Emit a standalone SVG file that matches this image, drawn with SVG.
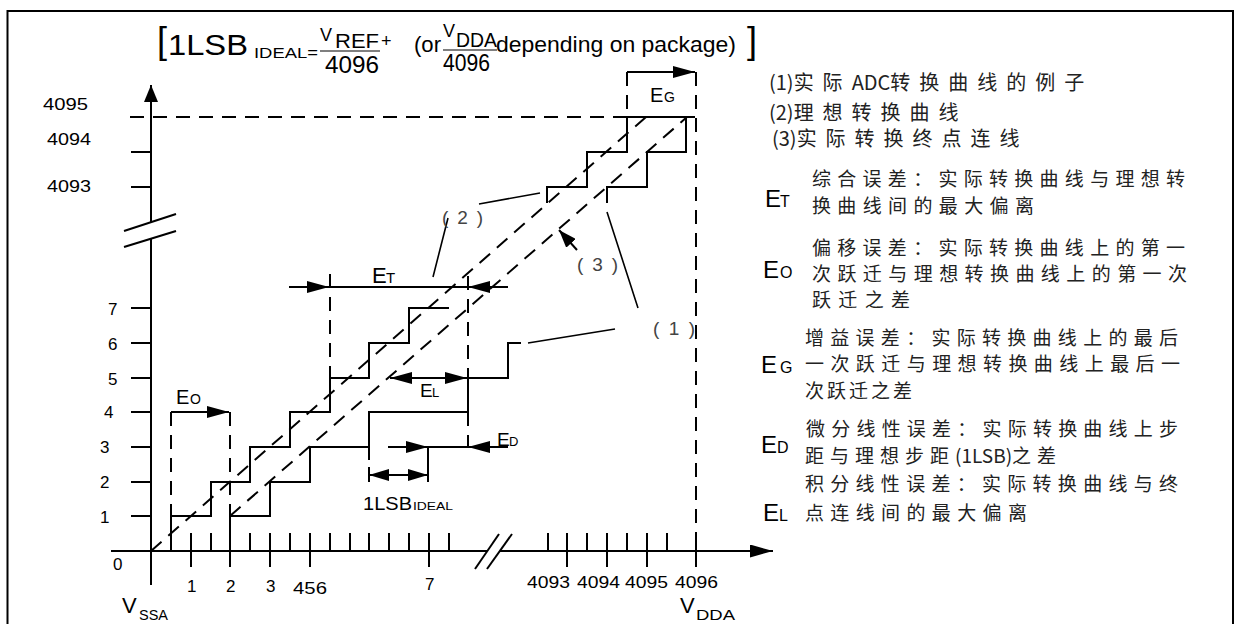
<svg xmlns="http://www.w3.org/2000/svg" width="1243" height="624" viewBox="0 0 1243 624">
<style>
.ln{stroke:#000;stroke-width:2;fill:none}
.dl{stroke:#000;stroke-width:2;fill:none;stroke-dasharray:14 9}
.th{stroke:#000;stroke-width:1.6;fill:none}
.t{font-family:"Liberation Sans",Arial,sans-serif;fill:#000}
.c{font-family:"Noto Sans CJK SC","Noto Sans",sans-serif;fill:#222;font-size:19px}
.k{letter-spacing:6px}
.k2{letter-spacing:9px}
.p{font-family:"Liberation Sans",Arial,sans-serif;fill:#444;font-size:19px}
</style>
<defs>
<marker id="ah" markerUnits="userSpaceOnUse" markerWidth="22" markerHeight="12" refX="22" refY="6" orient="auto-start-reverse"><path d="M0,0 L22,6 L0,12 z" fill="#000"/></marker>
<marker id="ahs" markerUnits="userSpaceOnUse" markerWidth="20" markerHeight="12" refX="20" refY="6" orient="auto-start-reverse"><path d="M0,0 L20,6 L0,12 z" fill="#000"/></marker>
<marker id="ax" markerUnits="userSpaceOnUse" markerWidth="23" markerHeight="13" refX="23" refY="6.5" orient="auto"><path d="M0,0 L23,6.5 L0,13 z" fill="#000"/></marker>
<marker id="ay" markerUnits="userSpaceOnUse" markerWidth="17" markerHeight="14" refX="17" refY="7" orient="auto"><path d="M0,0 L17,7 L0,14 z" fill="#000"/></marker>
<marker id="a3" markerUnits="userSpaceOnUse" markerWidth="18" markerHeight="13" refX="18" refY="6.5" orient="auto"><path d="M0,0 L18,6.5 L0,13 z" fill="#000"/></marker>
</defs>
<rect x="0" y="0" width="1243" height="624" fill="#fff"/>
<rect x="7.5" y="11" width="1225.5" height="640" fill="none" stroke="#000" stroke-width="2"/>

<g id="title" class="t">
<text x="157" y="53" font-size="36">[</text>
<text x="168" y="55" font-size="30" textLength="80" lengthAdjust="spacingAndGlyphs">1LSB</text>
<text x="254" y="58" font-size="15" textLength="64" lengthAdjust="spacingAndGlyphs">IDEAL=</text>
<text x="320" y="41" font-size="18">V</text>
<text x="335" y="48" font-size="20" textLength="44" lengthAdjust="spacingAndGlyphs">REF</text>
<text x="381" y="47" font-size="18">+</text>
<line x1="320" y1="51" x2="380" y2="51" stroke="#555" stroke-width="1.5"/>
<text x="325" y="73" font-size="24" textLength="54" lengthAdjust="spacingAndGlyphs">4096</text>
<text x="414" y="52" font-size="22" textLength="27" lengthAdjust="spacingAndGlyphs">(or</text>
<text x="443" y="37" font-size="18">V</text>
<text x="456" y="47" font-size="20" textLength="41" lengthAdjust="spacingAndGlyphs">DDA</text>
<line x1="443" y1="50" x2="497" y2="50" stroke="#555" stroke-width="1.5"/>
<text x="443" y="71" font-size="24" textLength="47" lengthAdjust="spacingAndGlyphs">4096</text>
<text x="496" y="52" font-size="22" textLength="240" lengthAdjust="spacingAndGlyphs">depending on package)</text>
<text x="747" y="53" font-size="36">]</text>
</g>

<g id="axes">
<line class="ln" x1="151" y1="585" x2="151" y2="239"/>
<line class="ln" x1="151" y1="222" x2="151" y2="85" marker-end="url(#ay)"/>
<line class="ln" x1="124" y1="231" x2="176" y2="214"/>
<line class="ln" x1="124" y1="247" x2="176" y2="231"/>
<line class="ln" x1="111" y1="551" x2="487" y2="551"/>
<line class="ln" x1="500" y1="551" x2="773" y2="551" marker-end="url(#ax)"/>
<line class="ln" x1="475" y1="569" x2="499" y2="534"/>
<line class="ln" x1="487" y1="569" x2="512" y2="534"/>
<path class="ln" d="M131,516H151M131,482H151M131,447H151M131,412H151M131,378H151M131,343H151M131,308H151M131,152H151M131,187H151"/>
<path class="ln" d="M171,533V551M191,533V567M211,533V551M230,533V567M250,533V551M270,533V567M290,533V551M310,533V567M330,533V551M350,533V551M369,533V551M389,533V551M409,533V551M429,533V567M449,533V551"/>
<path class="ln" d="M548,533V551M567,533V567M587,533V551M607,533V567M627,533V551M647,533V567M667,533V551M696,533V567"/>
</g>

<g id="axis-labels" class="t" font-size="17">
<text x="43" y="110" textLength="45" lengthAdjust="spacingAndGlyphs">4095</text>
<text x="47" y="145" textLength="44" lengthAdjust="spacingAndGlyphs">4094</text>
<text x="47" y="192" textLength="44" lengthAdjust="spacingAndGlyphs">4093</text>
<text x="108" y="315">7</text>
<text x="108" y="350">6</text>
<text x="108" y="385">5</text>
<text x="104" y="418">4</text>
<text x="100" y="453">3</text>
<text x="100" y="488">2</text>
<text x="100" y="523">1</text>
<text x="113" y="570">0</text>
<text x="187" y="592">1</text>
<text x="226" y="592">2</text>
<text x="266" y="592">3</text>
<text x="293" y="594" textLength="34" lengthAdjust="spacingAndGlyphs">456</text>
<text x="425" y="590">7</text>
<text x="527" y="588" textLength="43" lengthAdjust="spacingAndGlyphs">4093</text>
<text x="577" y="588" textLength="43" lengthAdjust="spacingAndGlyphs">4094</text>
<text x="625" y="588" textLength="43" lengthAdjust="spacingAndGlyphs">4095</text>
<text x="675" y="588" textLength="43" lengthAdjust="spacingAndGlyphs">4096</text>
<text x="122" y="613" font-size="22">V</text>
<text x="139" y="620" font-size="14" textLength="29" lengthAdjust="spacingAndGlyphs">SSA</text>
<text x="680" y="613" font-size="22">V</text>
<text x="696" y="620" font-size="14" textLength="39" lengthAdjust="spacingAndGlyphs">DDA</text>
</g>

<g id="curves">
<path class="ln" d="M171,551V516H211V482H250V447H290V412H330V378H369V343H409V308H449"/>
<path class="ln" d="M547,203V187H587V152H627V117H695"/>
<path class="ln" d="M230,551V516H270V482H310V447H369V412H468V378H508V343H521"/>
<path class="ln" d="M607,203V187H647V152H686V117"/>
<path class="dl" d="M151,551L646,117"/>
<path class="dl" d="M230,516L687,117"/>
<path class="dl" d="M130,117H627"/>
</g>

<g id="connectors">
<path class="dl" d="M171,412V516M230,412V516M330,274V378M468,276V378M468,412V447M627,72V117M696,72V533"/>
<line class="ln" x1="171" y1="412" x2="229" y2="412" marker-end="url(#ah)"/>
<line class="ln" x1="289" y1="287" x2="329" y2="287" marker-end="url(#ah)"/>
<line class="ln" x1="329" y1="287" x2="468" y2="287"/>
<line class="ln" x1="508" y1="287" x2="468" y2="287" marker-end="url(#ah)"/>
<line class="ln" x1="390" y1="378" x2="467" y2="378" marker-start="url(#ah)" marker-end="url(#ah)"/>
<line class="ln" x1="388" y1="447" x2="428" y2="447" marker-end="url(#ah)"/>
<line class="ln" x1="428" y1="447" x2="468" y2="447"/>
<line class="ln" x1="508" y1="447" x2="468" y2="447" marker-end="url(#ah)"/>
<path class="ln" d="M428,447V482M369,447V460M369,467V482"/>
<line class="ln" x1="369" y1="475" x2="428" y2="475" marker-start="url(#ahs)" marker-end="url(#ahs)"/>
<line class="ln" x1="627" y1="72" x2="695" y2="72" marker-end="url(#ah)"/>
<line class="ln" x1="577" y1="250" x2="559" y2="230" marker-end="url(#a3)"/>
<path class="th" d="M479,204L540,193M448,218L433,277M528,343L615,329M607,212L638,308"/>
</g>

<g id="plot-labels" class="t">
<text x="176" y="404" font-size="20">E</text><text x="190" y="404" font-size="14">O</text>
<text x="372" y="283" font-size="22">E</text><text x="386" y="283" font-size="15">T</text>
<text x="420" y="397" font-size="19">E</text><text x="432" y="397" font-size="13">L</text>
<text x="497" y="446" font-size="19">E</text><text x="509" y="446" font-size="13">D</text>
<text x="650" y="102" font-size="20">E</text><text x="664" y="102" font-size="14">G</text>
<text x="363" y="510" font-size="18" textLength="49" lengthAdjust="spacingAndGlyphs">1LSB</text>
<text x="413" y="510" font-size="11" textLength="40" lengthAdjust="spacingAndGlyphs">IDEAL</text>
<text class="p" x="442" y="224" textLength="41">(2)</text>
<text class="p" x="577" y="271" textLength="41">(3)</text>
<text class="p" x="653" y="335" textLength="42">(1)</text>
</g>

<g id="legend" class="c">
<text x="769" y="90" font-size="20">(1)<tspan class="k2">实际</tspan>ADC<tspan class="k2">转换曲线的例子</tspan></text>
<text x="769" y="120" font-size="20">(2)<tspan class="k2">理想转换曲线</tspan></text>
<text x="772" y="146" font-size="20">(3)<tspan class="k2">实际转换终点连线</tspan></text>
</g>

<g id="legend-ET">
<text class="t" x="765" y="207" font-size="24">E</text><text class="t" x="780" y="207" font-size="16">T</text>
<text class="c" x="812" y="186" textLength="373">综合误差：实际转换曲线与理想转</text>
<text class="c" x="812" y="213" textLength="222">换曲线间的最大偏离</text>
</g>
<g id="legend-EO">
<text class="t" x="763" y="278" font-size="24">E</text><text class="t" x="780" y="278" font-size="16">O</text>
<text class="c" x="812" y="255" textLength="373">偏移误差：实际转换曲线上的第一</text>
<text class="c" x="812" y="281" textLength="375">次跃迁与理想转换曲线上的第一次</text>
<text class="c" x="812" y="307" textLength="98">跃迁之差</text>
</g>
<g id="legend-EG">
<text class="t" x="761" y="373" font-size="24">E</text><text class="t" x="780" y="373" font-size="16">G</text>
<text class="c" x="805" y="345" textLength="373">增益误差：实际转换曲线上的最后</text>
<text class="c" x="805" y="371" textLength="375">一次跃迁与理想转换曲线上最后一</text>
<text class="c" x="805" y="398" textLength="107">次跃迁之差</text>
</g>
<g id="legend-ED">
<text class="t" x="761" y="453" font-size="24">E</text><text class="t" x="777" y="453" font-size="16">D</text>
<text class="c" x="806" y="436" textLength="372">微分线性误差：实际转换曲线上步</text>
<text class="c" x="805" y="463"><tspan class="k">距与理想步距</tspan>(1LSB)<tspan class="k">之差</tspan></text>
</g>
<g id="legend-EL">
<text class="t" x="763" y="521" font-size="24">E</text><text class="t" x="779" y="521" font-size="16">L</text>
<text class="c" x="805" y="491" textLength="373">积分线性误差：实际转换曲线与终</text>
<text class="c" x="805" y="520" textLength="222">点连线间的最大偏离</text>
</g>
</svg>
